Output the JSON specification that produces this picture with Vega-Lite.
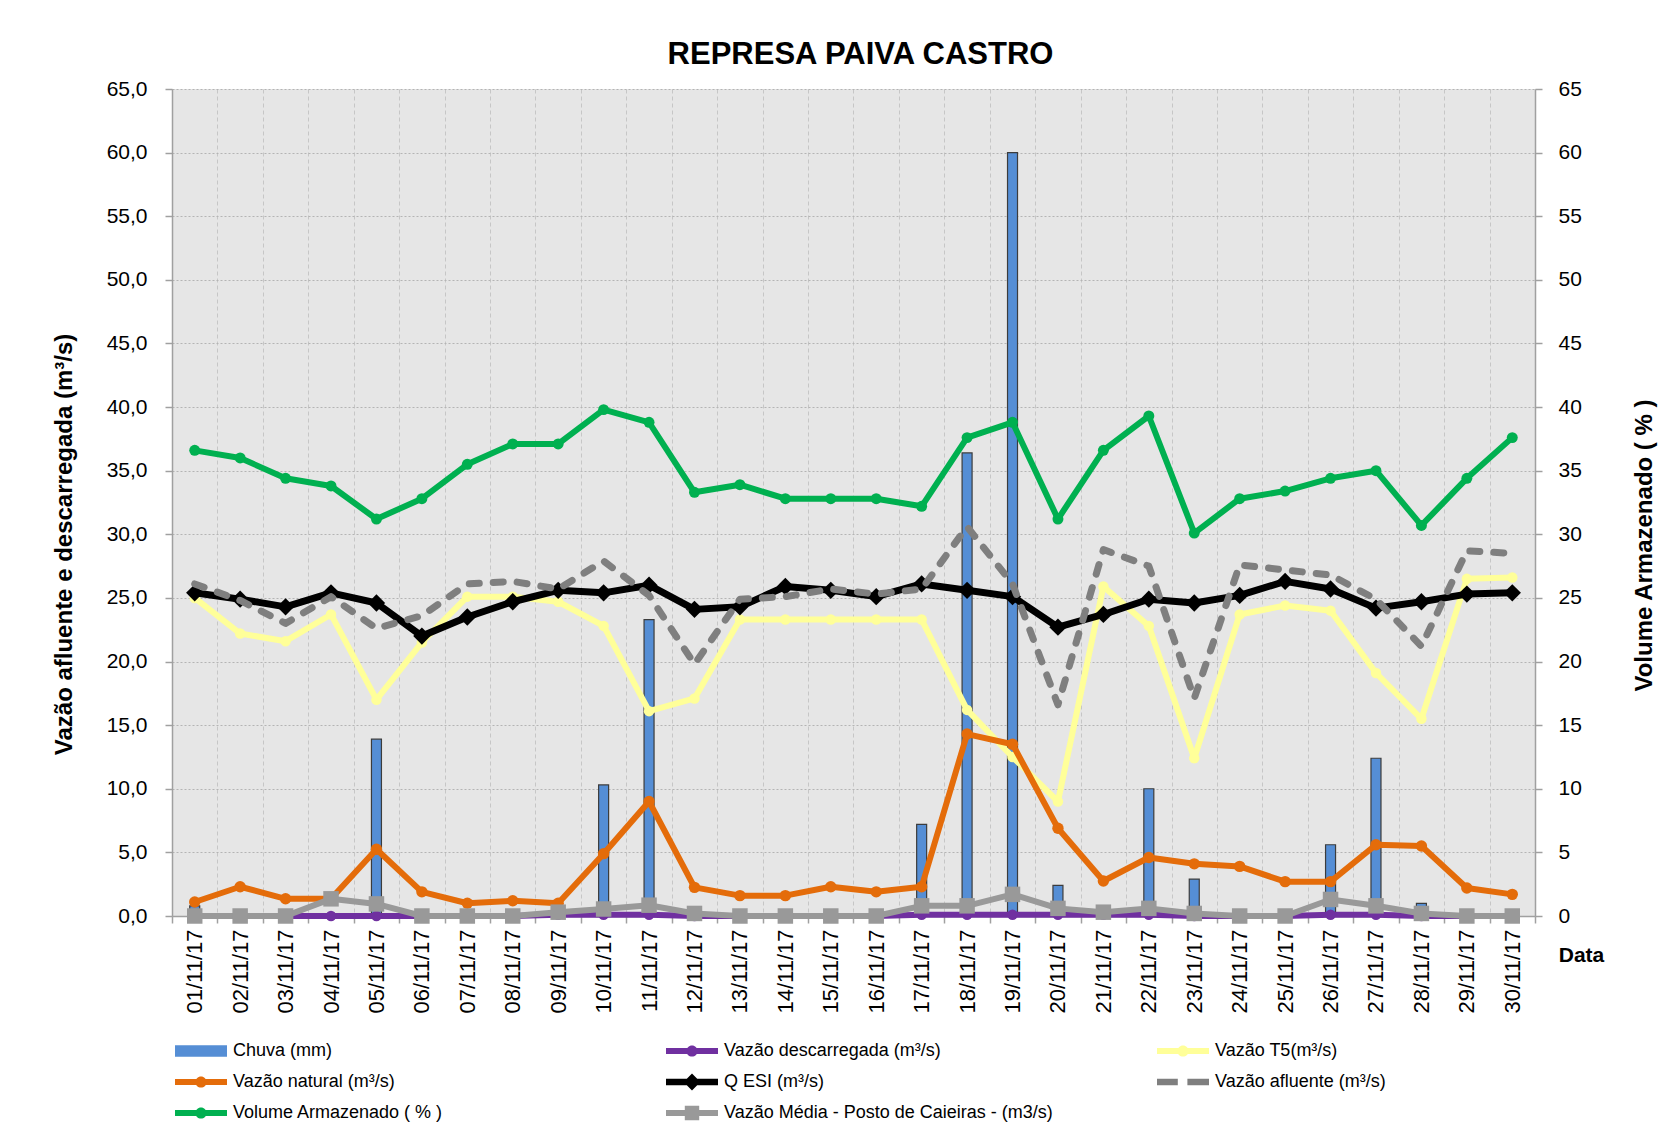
{
  "$schema": "https://vega.github.io/schema/vega-lite/v6.json",
  "width": 1363,
  "height": 827,
  "autosize": {"type": "none"},
  "padding": {"left": 172, "top": 89, "right": 125, "bottom": 214},
  "background": "white",
  "title": {"text": "REPRESA PAIVA CASTRO", "font": "Liberation Sans", "fontSize": 31, "fontWeight": "bold", "color": "#000000", "anchor": "middle", "dx": 7, "offset": 7},
  "data": {"values": [
    {"d": "01/11/17", "chuva": 0.8, "desc": 0, "t5": 25.0, "nat": 1.1, "qesi": 25.4, "aflu": 26.1, "vol": 36.6, "media": 0},
    {"d": "02/11/17", "chuva": 0, "desc": 0, "t5": 22.2, "nat": 2.3, "qesi": 24.9, "aflu": 24.8, "vol": 36.0, "media": 0},
    {"d": "03/11/17", "chuva": 0, "desc": 0, "t5": 21.6, "nat": 1.35, "qesi": 24.3, "aflu": 23.0, "vol": 34.4, "media": 0},
    {"d": "04/11/17", "chuva": 0, "desc": 0, "t5": 23.7, "nat": 1.35, "qesi": 25.4, "aflu": 25.1, "vol": 33.8, "media": 1.35},
    {"d": "05/11/17", "chuva": 13.9, "desc": 0, "t5": 17.0, "nat": 5.25, "qesi": 24.6, "aflu": 22.6, "vol": 31.2, "media": 0.95},
    {"d": "06/11/17", "chuva": 0, "desc": 0, "t5": 21.5, "nat": 1.9, "qesi": 22.0, "aflu": 23.6, "vol": 32.8, "media": 0},
    {"d": "07/11/17", "chuva": 0, "desc": 0, "t5": 25.1, "nat": 1.0, "qesi": 23.5, "aflu": 26.1, "vol": 35.5, "media": 0},
    {"d": "08/11/17", "chuva": 0, "desc": 0, "t5": 25.1, "nat": 1.2, "qesi": 24.7, "aflu": 26.3, "vol": 37.1, "media": 0},
    {"d": "09/11/17", "chuva": 0, "desc": 0.1, "t5": 24.7, "nat": 1.0, "qesi": 25.6, "aflu": 25.7, "vol": 37.1, "media": 0.3},
    {"d": "10/11/17", "chuva": 10.3, "desc": 0.1, "t5": 22.8, "nat": 4.9, "qesi": 25.4, "aflu": 27.9, "vol": 39.8, "media": 0.55},
    {"d": "11/11/17", "chuva": 23.3, "desc": 0.1, "t5": 16.1, "nat": 9.0, "qesi": 26.0, "aflu": 25.2, "vol": 38.8, "media": 0.85},
    {"d": "12/11/17", "chuva": 0, "desc": 0, "t5": 17.1, "nat": 2.25, "qesi": 24.1, "aflu": 19.8, "vol": 33.3, "media": 0.2},
    {"d": "13/11/17", "chuva": 0, "desc": 0, "t5": 23.3, "nat": 1.6, "qesi": 24.3, "aflu": 24.9, "vol": 33.9, "media": 0},
    {"d": "14/11/17", "chuva": 0, "desc": 0, "t5": 23.3, "nat": 1.6, "qesi": 25.9, "aflu": 25.1, "vol": 32.8, "media": 0},
    {"d": "15/11/17", "chuva": 0, "desc": 0, "t5": 23.3, "nat": 2.3, "qesi": 25.6, "aflu": 25.7, "vol": 32.8, "media": 0},
    {"d": "16/11/17", "chuva": 0, "desc": 0, "t5": 23.3, "nat": 1.9, "qesi": 25.1, "aflu": 25.3, "vol": 32.8, "media": 0},
    {"d": "17/11/17", "chuva": 7.2, "desc": 0.1, "t5": 23.3, "nat": 2.3, "qesi": 26.1, "aflu": 25.7, "vol": 32.2, "media": 0.8},
    {"d": "18/11/17", "chuva": 36.4, "desc": 0.1, "t5": 16.2, "nat": 14.3, "qesi": 25.6, "aflu": 30.6, "vol": 37.6, "media": 0.8},
    {"d": "19/11/17", "chuva": 60.0, "desc": 0.1, "t5": 12.5, "nat": 13.5, "qesi": 25.1, "aflu": 26.1, "vol": 38.8, "media": 1.7},
    {"d": "20/11/17", "chuva": 2.4, "desc": 0.1, "t5": 9.0, "nat": 6.9, "qesi": 22.7, "aflu": 16.6, "vol": 31.2, "media": 0.6},
    {"d": "21/11/17", "chuva": 0, "desc": 0.1, "t5": 25.9, "nat": 2.75, "qesi": 23.7, "aflu": 28.8, "vol": 36.6, "media": 0.3},
    {"d": "22/11/17", "chuva": 10.0, "desc": 0.1, "t5": 22.8, "nat": 4.6, "qesi": 24.9, "aflu": 27.5, "vol": 39.3, "media": 0.6},
    {"d": "23/11/17", "chuva": 2.9, "desc": 0, "t5": 12.4, "nat": 4.1, "qesi": 24.6, "aflu": 17.1, "vol": 30.1, "media": 0.2},
    {"d": "24/11/17", "chuva": 0, "desc": 0, "t5": 23.7, "nat": 3.9, "qesi": 25.2, "aflu": 27.6, "vol": 32.8, "media": 0},
    {"d": "25/11/17", "chuva": 0, "desc": 0, "t5": 24.4, "nat": 2.7, "qesi": 26.3, "aflu": 27.2, "vol": 33.4, "media": 0},
    {"d": "26/11/17", "chuva": 5.6, "desc": 0.1, "t5": 24.0, "nat": 2.7, "qesi": 25.7, "aflu": 26.8, "vol": 34.4, "media": 1.3},
    {"d": "27/11/17", "chuva": 12.4, "desc": 0.1, "t5": 19.1, "nat": 5.6, "qesi": 24.2, "aflu": 24.9, "vol": 35.0, "media": 0.8},
    {"d": "28/11/17", "chuva": 1.0, "desc": 0, "t5": 15.5, "nat": 5.5, "qesi": 24.7, "aflu": 21.2, "vol": 30.7, "media": 0.2},
    {"d": "29/11/17", "chuva": 0, "desc": 0, "t5": 26.5, "nat": 2.2, "qesi": 25.3, "aflu": 28.7, "vol": 34.4, "media": 0},
    {"d": "30/11/17", "chuva": 0, "desc": 0, "t5": 26.6, "nat": 1.7, "qesi": 25.4, "aflu": 28.5, "vol": 37.6, "media": 0}
  ]},
  "encoding": {
    "x": {
      "field": "d", "type": "ordinal", "sort": "ascending",
      "scale": {"paddingInner": 0, "paddingOuter": 0},
      "axis": {
        "title": "Data", "labelAngle": -90, "labelFontSize": 22, "labelPadding": 6,
        "tickBand": "extent", "tickSize": 7, "grid": true, "gridColor": "#c6c6c6", "gridDash": [4, 3], "gridWidth": 1,
        "titleX": 1409, "titleY": 39, "titleAlign": "center", "titleBaseline": "middle", "titleFontSize": 21, "titleAngle": 0
      }
    }
  },
  "layer": [
    {
      "layer": [
        {
          "transform": [{"filter": "datum.chuva > 0"}],
          "mark": {"type": "bar", "width": {"band": 0.22}, "stroke": "#3c3c3c", "strokeWidth": 1.2},
          "encoding": {
            "y": {"field": "chuva", "type": "quantitative", "scale": {"domain": [0, 65], "nice": false}, "title": "Vazão afluente e descarregada (m³/s)",
              "axis": {"tickCount": 13, "labelExpr": "replace(format(datum.value, '.1f'), '.', ',')", "labelFontSize": 21, "labelPadding": 18, "tickSize": 7,
                "grid": true, "gridColor": "#b4b4b4", "gridDash": [2, 2], "titleFontSize": 24, "titleX": -108, "titleY": 455, "titleAlign": "center", "titleBaseline": "middle", "titleAngle": -90}},
            "color": {"datum": "Chuva (mm)", "scale": {"domain": ["Chuva (mm)", "Vazão descarregada (m³/s)", "Vazão T5(m³/s)", "Vazão natural (m³/s)", "Q ESI (m³/s)", "Vazão afluente (m³/s)", "Volume Armazenado ( % )", "Vazão Média - Posto de Caieiras - (m3/s)"], "range": ["#558ed5", "#7030a0", "#ffff99", "#e46c0a", "#000000", "#7f7f7f", "#00b050", "#999999"]},
              "legend": {
                "title": null,
                "direction": "horizontal",
                "symbolType": {"expr": "datum.value === 'Chuva (mm)' ? 'M-1,-0.72H5.5V0.72H-1Z' : datum.value === 'Q ESI (m³/s)' ? 'M-1,-0.4H5.5V0.4H-1Z M2.25,-1.05L3.3,0L2.25,1.05L1.2,0Z' : datum.value === 'Vazão afluente (m³/s)' ? 'M-1,-0.42H1.6V0.42H-1Z M2.8,-0.42H5.5V0.42H2.8Z' : datum.value === 'Vazão Média - Posto de Caieiras - (m3/s)' ? 'M-1,-0.38H5.5V0.38H-1Z M1.35,-0.9H3.15V0.9H1.35Z' : 'M-1,-0.38H5.5V0.38H-1Z M1.55,0A0.7,0.7 0 1,1 2.95,0A0.7,0.7 0 1,1 1.55,0Z'"}
              }}
          }
        },
        {
          "mark": {"type": "line", "strokeWidth": 6, "strokeJoin": "round", "point": {"filled": true, "size": 110, "shape": "circle"}},
          "encoding": {
            "y": {"field": "desc", "type": "quantitative", "scale": {"domain": [0, 65], "nice": false}, "title": "Vazão afluente e descarregada (m³/s)"},
            "color": {"datum": "Vazão descarregada (m³/s)"}
          }
        },
        {
          "mark": {"type": "line", "strokeWidth": 6, "strokeJoin": "round", "point": {"filled": true, "size": 110, "shape": "circle"}},
          "encoding": {
            "y": {"field": "t5", "type": "quantitative", "scale": {"domain": [0, 65], "nice": false}, "title": "Vazão afluente e descarregada (m³/s)"},
            "color": {"datum": "Vazão T5(m³/s)"}
          }
        },
        {
          "mark": {"type": "line", "strokeWidth": 6, "strokeJoin": "round", "point": {"filled": true, "size": 130, "shape": "circle"}},
          "encoding": {
            "y": {"field": "nat", "type": "quantitative", "scale": {"domain": [0, 65], "nice": false}, "title": "Vazão afluente e descarregada (m³/s)"},
            "color": {"datum": "Vazão natural (m³/s)"}
          }
        },
        {
          "mark": {"type": "line", "strokeWidth": 7, "strokeJoin": "round", "point": {"filled": true, "size": 300, "shape": "diamond"}},
          "encoding": {
            "y": {"field": "qesi", "type": "quantitative", "scale": {"domain": [0, 65], "nice": false}, "title": "Vazão afluente e descarregada (m³/s)"},
            "color": {"datum": "Q ESI (m³/s)"}
          }
        },
        {
          "mark": {"type": "line", "strokeWidth": 7, "strokeJoin": "round", "strokeCap": "round", "strokeDash": [10, 14]},
          "encoding": {
            "y": {"field": "aflu", "type": "quantitative", "scale": {"domain": [0, 65], "nice": false}, "title": "Vazão afluente e descarregada (m³/s)"},
            "color": {"datum": "Vazão afluente (m³/s)"}
          }
        },
        {
          "mark": {"type": "line", "strokeWidth": 6, "strokeJoin": "round", "point": {"filled": true, "size": 240, "shape": "square"}},
          "encoding": {
            "y": {"field": "media", "type": "quantitative", "scale": {"domain": [0, 65], "nice": false}, "title": "Vazão afluente e descarregada (m³/s)"},
            "color": {"datum": "Vazão Média - Posto de Caieiras - (m3/s)"}
          }
        }
      ]
    },
    {
      "mark": {"type": "line", "strokeWidth": 6, "strokeJoin": "round", "point": {"filled": true, "size": 120, "shape": "circle"}},
      "encoding": {
        "y": {"field": "vol", "type": "quantitative", "scale": {"domain": [0, 65], "nice": false},
          "axis": {"orient": "right", "title": "Volume Armazenado ( % )", "tickCount": 13, "format": "d", "grid": false, "labelFontSize": 21, "labelPadding": 16, "tickSize": 7,
            "titleFontSize": 24, "titleX": 109, "titleY": 456, "titleAlign": "center", "titleBaseline": "middle", "titleAngle": -90}},
        "color": {"datum": "Volume Armazenado ( % )"}
      }
    }
  ],
  "resolve": {"scale": {"y": "independent"}},
  "config": {
    "view": {"fill": "#e6e6e6", "stroke": null},
    "axis": {"domainColor": "#a0a0a0", "domainWidth": 1.5, "tickColor": "#a0a0a0", "tickWidth": 1.5, "labelFont": "Liberation Sans", "titleFont": "Liberation Sans", "labelColor": "#000000", "titleColor": "#000000", "titleFontWeight": "bold", "labelOverlap": false},
    "legend": {"orient": "none", "legendX": 2, "legendY": 953, "columns": 3, "columnPadding": 103, "rowPadding": 13, "symbolSize": 256, "symbolStrokeWidth": 0, "labelFontSize": 18, "labelFont": "Liberation Sans", "labelColor": "#000000", "labelLimit": 600, "labelOffset": 41, "gridAlign": "all", "padding": 0}
  }
}
